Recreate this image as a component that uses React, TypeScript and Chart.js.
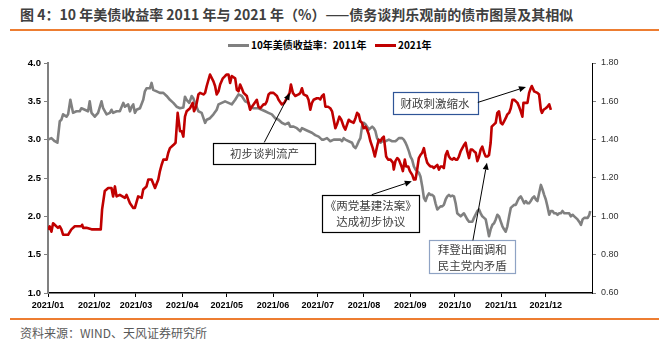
import React, { useEffect, useRef } from 'react';
import { Chart, registerables } from 'chart.js';

Chart.register(...registerables);

// x positions are days since 2021-01-01 (calendar-day axis)
const monthStartDays = [0, 31, 59, 90, 120, 151, 181, 212, 243, 273, 304, 334];
const monthLabels = ['2021/01', '2021/02', '2021/03', '2021/04', '2021/05', '2021/06', '2021/07', '2021/08', '2021/09', '2021/10', '2021/11', '2021/12'];

const seriesNames = ['10年美债收益率：2011年', '2021年'];

// 2011 yield (left axis, %) : [day, value]
const yield2011: [number, number][] = [
  [0, 3.0], [2.3, 3.02], [4.5, 2.98], [6.3, 2.96], [7.9, 3.24], [9.0, 3.26], [10.1, 3.33], [12.4, 3.3], [13.5, 3.33], [15.0, 3.52],
  [16.8, 3.35], [19.1, 3.37], [21.3, 3.37], [22.4, 3.41], [24.7, 3.39], [26.9, 3.37], [28.0, 3.5], [29.2, 3.35], [31.4, 3.3], [33.6, 3.35],
  [35.9, 3.5], [37.0, 3.41], [39.3, 3.33], [41.5, 3.35], [42.6, 3.39], [43.7, 3.35], [46.0, 3.37], [48.2, 3.37], [50.5, 3.48], [51.6, 3.43],
  [53.8, 3.46], [55.0, 3.37], [56.1, 3.43], [57.2, 3.46], [58.3, 3.35], [59.4, 3.39], [61.7, 3.41], [63.9, 3.52], [65.0, 3.63], [66.1, 3.67],
  [68.4, 3.67], [69.5, 3.74], [70.6, 3.65], [72.9, 3.63], [75.1, 3.61], [77.4, 3.61], [79.6, 3.57], [81.8, 3.52], [84.1, 3.48], [86.3, 3.43],
  [88.6, 3.41], [90.8, 3.42], [91.9, 3.56], [93.0, 3.52], [94.8, 3.48], [96.4, 3.57], [97.5, 3.54], [98.6, 3.48], [100.9, 3.37], [103.1, 3.35],
  [105.4, 3.22], [106.5, 3.26], [108.7, 3.28], [111.0, 3.33], [113.2, 3.39], [114.4, 3.46], [116.6, 3.48], [118.8, 3.5], [121.1, 3.48], [123.3, 3.46],
  [125.6, 3.52], [127.8, 3.59], [130.0, 3.57], [132.3, 3.5], [134.5, 3.48], [135.6, 3.43], [137.9, 3.41], [141.2, 3.41], [143.5, 3.39], [145.7, 3.37],
  [147.9, 3.35], [150.2, 3.33], [152.4, 3.28], [154.7, 3.26], [156.9, 3.22], [159.1, 3.2], [161.4, 3.22], [162.5, 3.17], [164.8, 3.17], [167.0, 3.15],
  [169.3, 3.11], [170.4, 3.15], [172.6, 3.13], [174.8, 3.11], [177.1, 3.09], [179.3, 3.06], [181.6, 3.04], [182.7, 3.02], [183.9, 3.0], [185.0, 3.0],
  [187.2, 3.02], [189.4, 2.98], [191.7, 3.0], [193.9, 3.0], [196.2, 3.0], [197.3, 2.98], [198.4, 3.02], [199.5, 3.0], [201.8, 2.98], [204.0, 2.96],
  [205.1, 2.91], [206.3, 2.89], [207.4, 2.93], [208.5, 2.98], [209.6, 3.02], [210.7, 3.17], [211.8, 3.22], [213.0, 3.2], [214.1, 3.17], [215.2, 3.13],
  [216.3, 3.15], [217.5, 3.17], [218.6, 3.15], [219.7, 3.11], [220.8, 3.02], [221.9, 2.98], [223.1, 2.96], [224.2, 2.98], [226.4, 2.98], [228.7, 3.0],
  [230.9, 2.98], [233.1, 2.98], [234.3, 3.0], [235.4, 3.02], [236.5, 3.02], [237.6, 3.02], [238.7, 3.0], [239.9, 2.96], [241.0, 2.91], [242.1, 2.85],
  [243.2, 2.78], [244.3, 2.74], [245.5, 2.65], [246.6, 2.61], [247.7, 2.59], [248.8, 2.57], [249.9, 2.52], [251.1, 2.39], [252.2, 2.24], [253.3, 2.2],
  [254.4, 2.26], [255.6, 2.3], [256.7, 2.28], [257.8, 2.28], [258.9, 2.26], [260.0, 2.17], [261.2, 2.09], [262.3, 2.11], [263.4, 2.13], [264.5, 2.13],
  [265.6, 2.15], [266.8, 2.22], [267.9, 2.26], [269.0, 2.28], [270.1, 2.26], [271.3, 2.27], [272.4, 2.26], [273.5, 2.17], [274.6, 2.04], [275.7, 2.02],
  [276.9, 2.0], [278.0, 2.02], [279.1, 2.04], [280.2, 2.0], [281.3, 1.96], [282.5, 1.93], [284.7, 1.93], [285.8, 1.98], [288.1, 2.07], [289.2, 2.09],
  [290.3, 2.04], [291.4, 2.0], [292.6, 1.98], [293.7, 1.96], [294.8, 1.85], [295.9, 1.74], [297.0, 1.83], [298.2, 1.89], [299.3, 1.91], [300.4, 1.96],
  [301.5, 2.02], [302.6, 2.0], [303.8, 1.93], [304.9, 1.87], [306.0, 1.83], [307.1, 1.8], [308.2, 1.87], [309.4, 2.0], [310.5, 2.11], [311.6, 2.13],
  [312.7, 2.15], [313.9, 2.15], [315.0, 2.2], [316.1, 2.24], [317.2, 2.26], [318.3, 2.22], [319.5, 2.17], [320.6, 2.2], [321.7, 2.17], [322.8, 2.17],
  [323.9, 2.2], [325.1, 2.24], [326.2, 2.26], [327.3, 2.22], [328.4, 2.2], [329.5, 2.3], [330.7, 2.41], [331.8, 2.35], [332.9, 2.28], [334.0, 2.22],
  [335.1, 2.13], [336.3, 2.02], [337.4, 2.07], [338.5, 2.07], [339.6, 2.04], [340.8, 2.04], [341.9, 2.02], [343.0, 2.04], [344.1, 2.04], [345.2, 2.07],
  [346.4, 2.04], [347.5, 2.04], [348.6, 2.04], [349.7, 2.04], [350.8, 2.0], [352.0, 2.02], [353.1, 2.0], [354.2, 1.98], [355.3, 1.96], [356.4, 1.93],
  [357.6, 1.89], [358.7, 1.96], [359.8, 1.98], [360.9, 1.98], [362.1, 1.98], [363.2, 2.02], [363.8, 2.07],
];

// 2021 yield (right axis, %) : [day, value]
const yield2021: [number, number][] = [
  [0, 0.93], [1.1, 0.948], [2.3, 0.92], [3.4, 0.964], [4.5, 0.956], [6.7, 0.94], [7.9, 0.948], [9.0, 0.932], [10.1, 0.904], [11.2, 0.904],
  [13.5, 0.904], [15.7, 0.932], [18.0, 0.948], [20.2, 0.948], [22.4, 0.948], [22.9, 0.956], [23.6, 0.94], [25.8, 0.94], [29.2, 0.932], [33.6, 0.932],
  [35.4, 0.932], [36.3, 1.036], [38.1, 1.132], [40.4, 1.148], [42.6, 1.148], [43.7, 1.104], [44.9, 1.156], [46.0, 1.104], [48.2, 1.112], [51.6, 1.096],
  [52.7, 1.112], [55.0, 1.068], [57.2, 1.044], [58.3, 1.044], [60.5, 1.104], [62.8, 1.096], [63.9, 1.14], [66.1, 1.156], [67.3, 1.192], [69.5, 1.192],
  [71.8, 1.148], [74.0, 1.192], [75.1, 1.236], [76.2, 1.268], [77.4, 1.296], [79.6, 1.296], [80.7, 1.332], [81.8, 1.356], [84.1, 1.372], [85.6, 1.384],
  [87.0, 1.54], [88.6, 1.444], [89.7, 1.444], [90.8, 1.416], [91.9, 1.52], [93.0, 1.548], [95.3, 1.564], [97.1, 1.592], [98.0, 1.548], [99.3, 1.572],
  [100.9, 1.636], [102.0, 1.644], [104.3, 1.636], [105.4, 1.644], [106.5, 1.68], [108.7, 1.74], [111.0, 1.704], [112.1, 1.68], [113.2, 1.636], [114.4, 1.652],
  [115.5, 1.688], [117.3, 1.72], [118.8, 1.732], [119.9, 1.74], [121.1, 1.74], [122.2, 1.696], [123.3, 1.732], [125.6, 1.72], [126.7, 1.66], [127.8, 1.652],
  [128.9, 1.688], [130.0, 1.668], [131.2, 1.644], [133.4, 1.628], [134.5, 1.592], [135.6, 1.556], [136.8, 1.572], [137.9, 1.584], [140.1, 1.608], [141.2, 1.572],
  [142.4, 1.564], [144.6, 1.584], [145.7, 1.584], [146.8, 1.6], [148.0, 1.636], [149.1, 1.644], [151.3, 1.644], [153.6, 1.628], [154.7, 1.608], [156.9, 1.584],
  [158.5, 1.592], [160.3, 1.616], [162.1, 1.644], [163.0, 1.688], [164.3, 1.644], [165.9, 1.628], [168.1, 1.636], [169.3, 1.644], [170.4, 1.668], [171.5, 1.636],
  [173.7, 1.628], [174.8, 1.608], [176.0, 1.556], [177.1, 1.592], [178.2, 1.608], [180.4, 1.616], [181.6, 1.616], [182.7, 1.61], [183.9, 1.628], [185.0, 1.636],
  [186.1, 1.572], [187.9, 1.572], [189.4, 1.564], [190.6, 1.548], [191.7, 1.504], [192.8, 1.46], [193.9, 1.48], [195.5, 1.52], [196.8, 1.504], [198.4, 1.468],
  [199.5, 1.452], [200.7, 1.48], [201.8, 1.504], [202.9, 1.496], [205.1, 1.488], [206.3, 1.512], [207.4, 1.54], [208.5, 1.532], [209.6, 1.496], [210.7, 1.488],
  [211.8, 1.46], [213.0, 1.468], [214.1, 1.452], [215.2, 1.428], [216.3, 1.392], [217.9, 1.356], [219.3, 1.312], [220.8, 1.364], [221.9, 1.4], [223.1, 1.392],
  [224.2, 1.408], [225.3, 1.416], [226.9, 1.312], [228.2, 1.296], [229.8, 1.296], [231.4, 1.28], [232.0, 1.244], [233.1, 1.288], [234.3, 1.304], [235.4, 1.296],
  [237.2, 1.26], [238.1, 1.236], [239.4, 1.296], [240.3, 1.26], [241.7, 1.26], [242.8, 1.236], [244.4, 1.216], [245.5, 1.192], [246.6, 1.192], [247.7, 1.244],
  [248.8, 1.304], [249.9, 1.32], [251.1, 1.332], [252.2, 1.356], [253.3, 1.312], [254.4, 1.28], [255.6, 1.268], [256.7, 1.26], [257.8, 1.26], [258.9, 1.252],
  [260.0, 1.26], [261.2, 1.268], [262.3, 1.244], [263.4, 1.26], [264.5, 1.26], [265.6, 1.252], [266.8, 1.32], [267.9, 1.34], [269.0, 1.312], [270.1, 1.3],
  [271.3, 1.296], [272.4, 1.304], [273.5, 1.296], [274.6, 1.296], [275.7, 1.312], [276.9, 1.34], [278.0, 1.356], [279.1, 1.372], [280.2, 1.384], [281.3, 1.34],
  [282.5, 1.304], [283.6, 1.348], [284.7, 1.348], [285.8, 1.34], [287.0, 1.332], [288.1, 1.288], [289.2, 1.312], [290.3, 1.348], [291.4, 1.364], [292.6, 1.332],
  [293.7, 1.312], [294.8, 1.312], [295.9, 1.32], [297.0, 1.384], [297.7, 1.468], [299.3, 1.48], [300.4, 1.488], [301.5, 1.54], [302.6, 1.548], [303.8, 1.488],
  [304.9, 1.48], [306.0, 1.496], [307.1, 1.512], [308.2, 1.532], [309.4, 1.54], [310.5, 1.564], [311.6, 1.608], [312.7, 1.608], [313.9, 1.6], [315.0, 1.592],
  [316.1, 1.572], [317.2, 1.548], [318.3, 1.52], [319.0, 1.592], [320.6, 1.592], [321.7, 1.592], [322.8, 1.644], [323.9, 1.668], [324.6, 1.68], [326.2, 1.652],
  [328.4, 1.644], [329.5, 1.636], [330.7, 1.556], [331.4, 1.54], [332.5, 1.556], [334.0, 1.564], [335.1, 1.572], [336.3, 1.584], [337.4, 1.556],
];

// Callouts: box centre, arrow tail and head given as [day, left-axis value]
const notes = [
  { lines: ['初步谈判流产'], box: [145.2, 2.82], w: 102, h: 21, border: '#000000', tail: [145.1, 2.964], head: [162.3, 3.61] },
  { lines: ['财政刺激缩水'], box: [259.7, 3.478], w: 85, h: 22, border: '#2F5597', tail: [288.4, 3.486], head: [320.7, 3.687] },
  { lines: ['《两党基建法案》', '达成初步协议'], box: [216.6, 2.04], w: 97, h: 37, border: '#000000', tail: [217.2, 2.282], head: [244.1, 2.456] },
  { lines: ['拜登出面调和', '民主党内矛盾'], box: [284.6, 1.47], w: 86, h: 33, border: '#8FA3C4', tail: [285.1, 1.686], head: [294.5, 2.7] },
];

const GRAY = '#808080';
const RED = '#C00000';
const CJK = '"Noto Sans CJK SC", "Noto Sans", sans-serif';
const LATIN = '"Liberation Sans", Arial, sans-serif';

const notesPlugin = {
  id: 'notes',
  afterDatasetsDraw(chart: any) {
    const { ctx, scales } = chart;
    const x = scales.x;
    const y = scales.y;
    ctx.save();
    for (const n of notes) {
      const cx = x.getPixelForValue(n.box[0]);
      const cy = y.getPixelForValue(n.box[1]);
      const left = Math.round(cx - n.w / 2) + 0.5;
      const top = Math.round(cy - n.h / 2) + 0.5;
      ctx.fillStyle = '#ffffff';
      ctx.fillRect(left, top, n.w, n.h);
      ctx.strokeStyle = n.border;
      ctx.lineWidth = 1.2;
      ctx.strokeRect(left, top, n.w, n.h);
      ctx.fillStyle = '#404040';
      ctx.font = `11.5px ${CJK}`;
      ctx.textAlign = 'center';
      ctx.textBaseline = 'middle';
      const lh = 16;
      const startY = cy - ((n.lines.length - 1) * lh) / 2;
      n.lines.forEach((t, i) => ctx.fillText(t, cx, startY + i * lh + 0.5));

      const tx = x.getPixelForValue(n.tail[0]);
      const ty = y.getPixelForValue(n.tail[1]);
      const hx = x.getPixelForValue(n.head[0]);
      const hy = y.getPixelForValue(n.head[1]);
      const ang = Math.atan2(hy - ty, hx - tx);
      const len = 7;
      const wid = 3;
      const bx = hx - len * Math.cos(ang);
      const by = hy - len * Math.sin(ang);
      ctx.strokeStyle = '#000000';
      ctx.fillStyle = '#000000';
      ctx.lineWidth = 1;
      ctx.beginPath();
      ctx.moveTo(tx, ty);
      ctx.lineTo(bx, by);
      ctx.stroke();
      ctx.beginPath();
      ctx.moveTo(hx, hy);
      ctx.lineTo(bx + wid * Math.sin(ang), by - wid * Math.cos(ang));
      ctx.lineTo(bx - wid * Math.sin(ang), by + wid * Math.cos(ang));
      ctx.closePath();
      ctx.fill();
    }
    ctx.restore();
  },
};

function YieldChart() {
  const ref = useRef<HTMLCanvasElement | null>(null);
  useEffect(() => {
    if (!ref.current) return;
    const chart = new Chart(ref.current, {
      type: 'line',
      data: {
        datasets: [
          {
            label: seriesNames[0],
            data: yield2011.map(([d, v]) => ({ x: d, y: v })),
            borderColor: GRAY,
            borderWidth: 2.6,
            pointRadius: 0,
            tension: 0,
            yAxisID: 'y',
            order: 1,
            borderJoinStyle: 'round',
          },
          {
            label: seriesNames[1],
            data: yield2021.map(([d, v]) => ({ x: d, y: v })),
            borderColor: RED,
            borderWidth: 2.6,
            pointRadius: 0,
            tension: 0,
            yAxisID: 'y1',
            order: 0,
            borderJoinStyle: 'round',
          },
        ],
      },
      options: {
        responsive: false,
        animation: false,
        layout: { padding: { top: 13, left: 0, right: 0, bottom: 0 } },
        plugins: { legend: { display: false }, tooltip: { enabled: false }, title: { display: false } },
        scales: {
          x: {
            type: 'linear',
            min: 0,
            max: 365,
            afterBuildTicks: (s: any) => {
              s.ticks = monthStartDays.map((v) => ({ value: v }));
            },
            afterFit: (s: any) => {
              s.height = 27;
            },
            ticks: {
              autoSkip: false,
              maxRotation: 0,
              minRotation: 0,
              padding: 3,
              color: '#000',
              font: { family: LATIN, size: 9, weight: 'bold' },
              callback: (v: any) => {
                const i = monthStartDays.indexOf(Number(v));
                return i >= 0 ? monthLabels[i] : '';
              },
            },
            grid: { drawOnChartArea: false, drawTicks: true, tickLength: 4, color: '#000' },
            border: { display: true, color: '#000', width: 1.5 },
          },
          y: {
            type: 'linear',
            position: 'left',
            min: 1,
            max: 4,
            afterFit: (s: any) => {
              s.width = 48;
            },
            ticks: {
              stepSize: 0.5,
              padding: 3,
              color: '#000',
              font: { family: LATIN, size: 9.5, weight: 'bold' },
              callback: (v: any) => Number(v).toFixed(1),
            },
            grid: { drawOnChartArea: false, drawTicks: true, tickLength: 4, color: GRAY },
            border: { display: true, color: GRAY, width: 2 },
          },
          y1: {
            type: 'linear',
            position: 'right',
            min: 0.6,
            max: 1.8,
            afterFit: (s: any) => {
              s.width = 77;
            },
            ticks: {
              stepSize: 0.2,
              padding: 5,
              color: '#333',
              font: { family: LATIN, size: 9 },
              callback: (v: any) => Number(v).toFixed(2),
            },
            grid: { drawOnChartArea: false, drawTicks: true, tickLength: 4, color: GRAY },
            border: { display: true, color: '#000', width: 1 },
          },
        },
      },
      plugins: [notesPlugin],
    } as any);
    return () => chart.destroy();
  }, []);
  return <canvas ref={ref} width={669} height={270} style={{ position: 'absolute', left: 0, top: 50, width: 669, height: 270 }} />;
}

export default function App() {
  return (
    <div style={{ position: 'fixed', left: 0, top: 0, width: 669, height: 351, background: '#fff', overflow: 'hidden' }}>
      <div style={{ position: 'absolute', left: 20, top: 4, fontFamily: CJK, fontSize: 14, fontWeight: 'bold', color: '#404040', whiteSpace: 'nowrap', lineHeight: '20px' }}>
        图 4：10 年美债收益率 2011 年与 2021 年（%）——债务谈判乐观前的债市图景及其相似
      </div>
      <div style={{ position: 'absolute', left: 10, top: 29, width: 649, height: 2, background: '#ED7D31' }} />
      <div style={{ position: 'absolute', left: 228, top: 44, width: 21, height: 3, background: GRAY }} />
      <div style={{ position: 'absolute', left: 251, top: 38, fontFamily: CJK, fontSize: 10, fontWeight: 'bold', color: '#000', whiteSpace: 'nowrap', lineHeight: '14px' }}>
        {seriesNames[0]}
      </div>
      <div style={{ position: 'absolute', left: 375, top: 44, width: 21, height: 3, background: RED }} />
      <div style={{ position: 'absolute', left: 398, top: 38, fontFamily: CJK, fontSize: 10, fontWeight: 'bold', color: '#000', whiteSpace: 'nowrap', lineHeight: '14px' }}>
        {seriesNames[1]}
      </div>
      <YieldChart />
      <div style={{ position: 'absolute', left: 10, top: 318, width: 649, height: 2, background: '#ED7D31' }} />
      <div style={{ position: 'absolute', left: 20, top: 324, fontFamily: CJK, fontSize: 12, color: '#595959', whiteSpace: 'nowrap', lineHeight: '18px' }}>
        资料来源：WIND、天风证券研究所
      </div>
    </div>
  );
}
